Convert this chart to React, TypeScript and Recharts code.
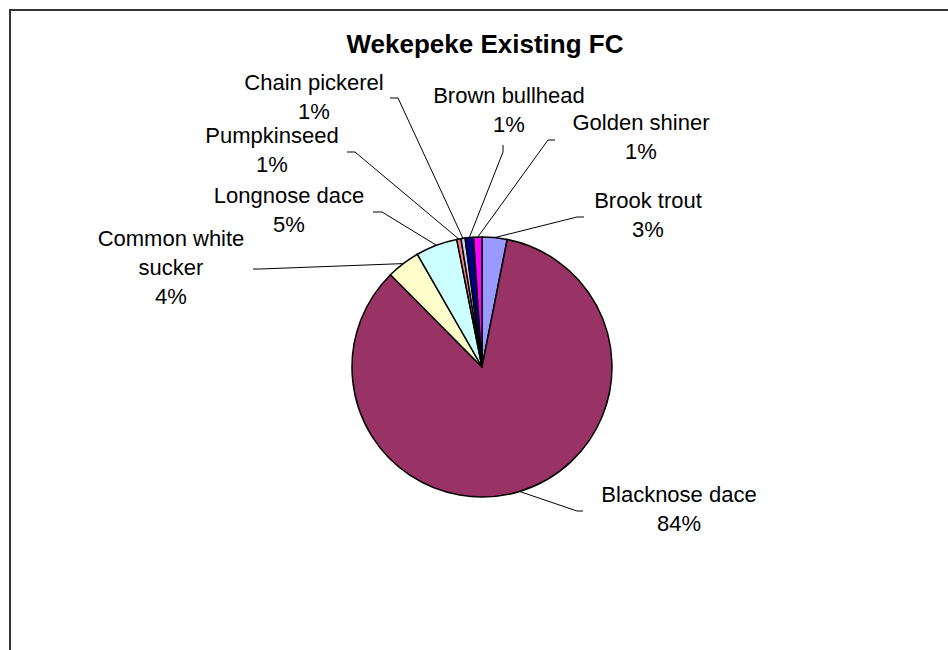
import React from 'react';
import { PieChart, Pie, Cell } from 'recharts';

// fish survey counts, clockwise from 12 o'clock
const categories = [
  'Brook trout',
  'Blacknose dace',
  'Common white sucker',
  'Longnose dace',
  'Pumpkinseed',
  'Chain pickerel',
  'Brown bullhead',
  'Golden shiner',
];
const fishCounts = [6, 163, 8, 10, 1, 1, 2, 2];
const sliceColors = ['#9999FF', '#993366', '#FFFFCC', '#CCFFFF', '#FF8080', '#CCCCFF', '#000080', '#FF00FF'];

const chartTitle = 'Wekepeke Existing FC';

const chartData = categories.map((name, i) => ({ name, value: fishCounts[i] }));

// label placement relative to the pie centre (text centre / first baseline, leader elbow, leader tail)
interface LabelLayout {
  text: [number, number];
  elbow: [number, number];
  tail: [number, number];
  lines?: string[];
}

const labelLayout: Record<string, LabelLayout> = {
  'Brook trout': { text: [166, -159], elbow: [95, -150], tail: [102, -150] },
  'Blacknose dace': { text: [197, 135], elbow: [95, 144], tail: [101, 144] },
  'Common white sucker': {
    text: [-311, -121],
    elbow: [-222, -98],
    tail: [-229, -98],
    lines: ['Common white', 'sucker'],
  },
  'Longnose dace': { text: [-193, -164], elbow: [-100, -155], tail: [-109, -155] },
  Pumpkinseed: { text: [-210, -224], elbow: [-127, -215], tail: [-135, -215] },
  'Chain pickerel': { text: [-168, -277], elbow: [-84, -269], tail: [-92, -269] },
  'Brown bullhead': { text: [27, -264], elbow: [21, -215], tail: [21, -222] },
  'Golden shiner': { text: [159, -237], elbow: [66, -227], tail: [73, -227] },
};

const FONT = "'Liberation Sans', Arial, sans-serif";
const RAD = Math.PI / 180;

const renderLabel = (props: any) => {
  const { cx, cy, midAngle, outerRadius, percent, index } = props;
  const name = categories[index];
  const lay = labelLayout[name];
  if (!lay) return null;
  const sx = cx + outerRadius * Math.cos(-midAngle * RAD);
  const sy = cy + outerRadius * Math.sin(-midAngle * RAD);
  const ex = cx + lay.elbow[0];
  const ey = cy + lay.elbow[1];
  const tx = cx + lay.tail[0];
  const ty = cy + lay.tail[1];
  const lines = [...(lay.lines ?? [name]), `${Math.round(percent * 100)}%`];
  const textX = cx + lay.text[0];
  return (
    <g key={`label-${index}`}>
      <polyline points={`${sx},${sy} ${ex},${ey} ${tx},${ty}`} fill="none" stroke="#000" strokeWidth={1} />
      <text x={textX} y={cy + lay.text[1]} textAnchor="middle" fontFamily={FONT} fontSize={22} fill="#000">
        {lines.map((line, i) => (
          <tspan key={i} x={textX} dy={i === 0 ? 0 : 29}>
            {line}
          </tspan>
        ))}
      </text>
    </g>
  );
};

export default function App() {
  return (
    <div style={{ position: 'absolute', left: 0, top: 0, width: 948, height: 650, background: '#fff', overflow: 'hidden' }}>
      <div
        style={{
          position: 'absolute',
          left: 9,
          top: 9,
          width: 939,
          height: 641,
          borderTop: '2px solid #333',
          borderLeft: '2px solid #333',
          boxSizing: 'border-box',
        }}
      />
      <svg width={948} height={650} style={{ position: 'absolute', left: 0, top: 0 }}>
        <text x={485} y={53} textAnchor="middle" fontFamily={FONT} fontSize={26} fontWeight="bold" fill="#000">
          {chartTitle}
        </text>
      </svg>
      <div style={{ position: 'absolute', left: 0, top: 0 }}>
        <PieChart width={948} height={650} margin={{ top: 0, right: 0, bottom: 0, left: 0 }}>
          <Pie
            data={chartData}
            dataKey="value"
            nameKey="name"
            cx={482}
            cy={367}
            outerRadius={130}
            startAngle={90}
            endAngle={-270}
            stroke="#000"
            strokeWidth={1.5}
            labelLine={false}
            label={renderLabel}
            isAnimationActive={false}
          >
            {chartData.map((entry, index) => (
              <Cell key={`cell-${index}`} fill={sliceColors[index]} />
            ))}
          </Pie>
        </PieChart>
      </div>
    </div>
  );
}
